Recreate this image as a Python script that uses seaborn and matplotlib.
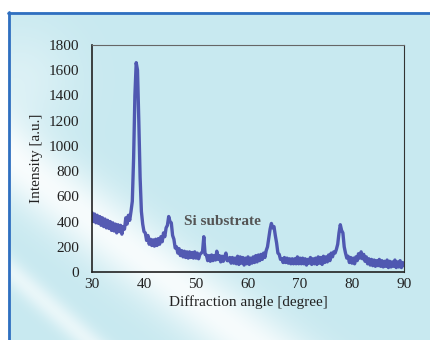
import numpy as np
import pandas as pd
import matplotlib.pyplot as plt
import seaborn as sns

# XRD pattern, 0.25 degree steps from 30 to 90
angle = np.arange(30, 90.01, 0.25)
intensity = [
    470, 400, 460, 390, 450, 385, 440, 370, 430, 360, 420, 350, 410, 345, 400, 330, 390, 325, 380, 310, 375,
    320, 370, 300, 360, 340, 430, 380, 450, 410, 480, 560, 900, 1400, 1660, 1600, 1200, 750, 480, 380, 320,
    310, 250, 290, 220, 260, 210, 255, 205, 260, 210, 265, 220, 280, 240, 310, 280, 350, 370, 440, 400,
    390, 290, 260, 190, 200, 150, 185, 130, 170, 120, 165, 115, 160, 110, 160, 115, 155, 110, 160, 110,
    150, 105, 140, 150, 160, 280, 140, 135, 90, 130, 85, 135, 90, 130, 95, 165, 100, 130, 80, 125,
    85, 120, 150, 90, 90, 115, 70, 115, 70, 110, 65, 125, 60, 120, 70, 115, 55, 110, 65, 120,
    60, 110, 70, 120, 75, 130, 80, 135, 90, 140, 100, 150, 115, 170, 200, 270, 340, 385, 350, 360,
    290, 230, 150, 140, 100, 105, 75, 115, 75, 110, 70, 105, 65, 105, 65, 105, 65, 120, 65, 110,
    65, 110, 65, 105, 55, 100, 70, 115, 60, 105, 65, 110, 60, 120, 70, 115, 60, 125, 75, 120,
    80, 135, 90, 150, 120, 160, 150, 180, 220, 310, 375, 330, 310, 200, 150, 110, 125, 75, 115, 70,
    110, 65, 120, 90, 145, 110, 160, 105, 140, 85, 120, 65, 105, 55, 100, 50, 95, 45, 90, 50,
    100, 45, 90, 40, 85, 45, 95, 35, 85, 40, 80, 45, 95, 35, 80, 40, 90, 35, 75, 50,
]
xrd = pd.DataFrame({'angle': angle, 'intensity': intensity})

x_ticks = [30, 40, 50, 60, 70, 80, 90]
y_ticks = [0, 200, 400, 600, 800, 1000, 1200, 1400, 1600, 1800]

sns.set_style('white')
plt.rcParams['font.family'] = ['Liberation Serif', 'DejaVu Serif']

fig = plt.figure(figsize=(4.3, 3.4), dpi=100)

# light blue page background with white diagonal streaks
bg = fig.add_axes([0, 0, 1, 1])
px, py = np.meshgrid(np.arange(430), np.arange(340))
base = np.array([200, 233, 240]) / 255
d1 = (px * 190 - (py - 150) * 250) / 314.0
d2 = (px * 80 - (py - 262) * 90) / 120.0
w = 0.85 * np.exp(-(d1 / 34) ** 2) + 0.6 * np.exp(-(d2 / 12) ** 2)
w += 0.35 * np.exp(-(((px - 20) ** 2 + (py - 80) ** 2) / 3000.0))
w = np.clip(w, 0, 0.95)
img = base[None, None, :] * (1 - w[..., None]) + w[..., None]
img[(py < 12) | (px < 8)] = 1.0
bg.imshow(img, extent=[0, 430, 340, 0], aspect='auto')
bg.plot([8, 430], [12.5, 12.5], color='#2f6fc0', lw=2)
bg.plot([8.5, 8.5], [12, 340], color='#2f6fc0', lw=2)
bg.set_xlim(0, 430)
bg.set_ylim(340, 0)
bg.axis('off')

ax = fig.add_axes([92 / 430, 1 - 272 / 340, 312 / 430, 227 / 340])
ax.set_facecolor('none')
sns.lineplot(data=xrd, x='angle', y='intensity', ax=ax, color='#3a3fa6', lw=2.4, alpha=0.85)
ax.set_xlim(30, 90)
ax.set_ylim(0, 1800)
ax.set_xticks(x_ticks)
ax.set_yticks(y_ticks)
ax.tick_params(axis='x', direction='in', length=3, width=0.6, pad=4, labelsize=11, colors='#222')
ax.tick_params(axis='y', length=0, pad=9, labelsize=11, colors='#222')
ax.set_xlabel('Diffraction angle [degree]', fontsize=11, color='#222', labelpad=3)
ax.set_ylabel('Intensity [a.u.]', fontsize=11, color='#222', labelpad=4)
for side in ['left', 'bottom']:
    ax.spines[side].set_color('#222')
    ax.spines[side].set_linewidth(1.2)
ax.spines['top'].set_color('#666')
ax.spines['right'].set_color('#333')
ax.text(47.6, 370, 'Si substrate', fontsize=11, fontweight='bold', color='#555')

fig.savefig('out.png', dpi=100)
